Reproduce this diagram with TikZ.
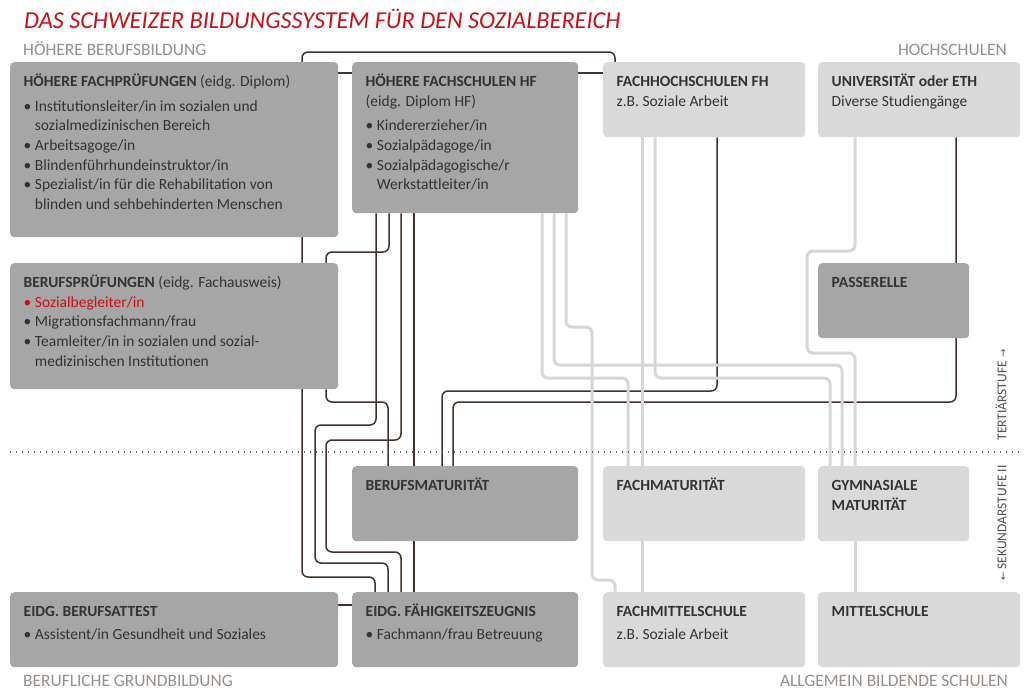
\documentclass[tikz,border=0pt]{standalone}
\usepackage{fontspec}
\setmainfont{Carlito}
\newfontfamily\arrowfont{DejaVu Sans}

\definecolor{darkfill}{RGB}{166,166,166}
\definecolor{lightfill}{RGB}{217,217,217}
\definecolor{wirebrown}{RGB}{66,52,42}
\definecolor{wirelight}{RGB}{214,214,214}
\definecolor{titlered}{RGB}{200,16,24}
\definecolor{labelgrey}{RGB}{150,143,138}
\definecolor{boxink}{RGB}{51,51,51}

\newcommand{\bul}{\textbullet\ }
\newcommand{\bulindent}{\phantom{\textbullet\ }}
\newcommand{\boxlines}[1]{\begin{tabular}[t]{@{}l@{}}#1\end{tabular}}

\pgfdeclarelayer{paper}
\pgfdeclarelayer{wires}
\pgfsetlayers{paper,wires,main}

\tikzset{
  darkbox/.style={fill=darkfill, rounded corners=4pt, anchor=north west, inner sep=0pt},
  lightbox/.style={fill=lightfill, rounded corners=4pt, anchor=north west, inner sep=0pt},
  boxlabel/.style={anchor=base west, inner sep=0pt, text=boxink, font=\fontsize{15.5}{19.6}\selectfont},
  sectionlabel/.style={inner sep=0pt, text=labelgrey, font=\fontsize{17.4}{20}\selectfont},
  sidelabel/.style={inner sep=0pt, rotate=90, text=boxink!85, font=\fontsize{13.5}{16}\selectfont},
  darkline/.style={draw=wirebrown, line width=1.5pt, rounded corners=6pt},
  lightline/.style={draw=wirelight, line width=3pt, rounded corners=6pt},
}

\begin{document}
\begin{tikzpicture}[x=1pt, y=-1pt]
  \begin{pgfonlayer}{paper}
    \fill[white] (0,0) rectangle (1024,696);
  \end{pgfonlayer}
  \useasboundingbox (0,0) rectangle (1024,696);

  % Title and areas
  \node[anchor=base west, inner sep=0pt, text=titlered, font=\fontsize{24.3}{27}\selectfont\itshape] (title) at (24,28.3)
    {DAS SCHWEIZER BILDUNGSSYSTEM FÜR DEN SOZIALBEREICH};
  \node[sectionlabel, anchor=base west] (hbb) at (23,55) {HÖHERE BERUFSBILDUNG};
  \node[sectionlabel, anchor=base east] (hs) at (1007,55) {HOCHSCHULEN};
  \node[sectionlabel, anchor=base west] (bgb) at (23,686) {BERUFLICHE GRUNDBILDUNG};
  \node[sectionlabel, anchor=base east] (abs) at (1008,686.5) {ALLGEMEIN BILDENDE SCHULEN};

  % Tertiary level
  \node[darkbox, minimum width=328pt, minimum height=175pt] (hfp) at (10,62) {};
  \node[darkbox, minimum width=226pt, minimum height=151pt] (hf) at (352,62) {};
  \node[lightbox, minimum width=202pt, minimum height=75pt] (fh) at (603,62) {};
  \node[lightbox, minimum width=202pt, minimum height=75pt] (uni) at (818,62) {};
  \node[darkbox, minimum width=328pt, minimum height=126pt] (bp) at (10,263) {};
  \node[darkbox, minimum width=151pt, minimum height=75pt] (pas) at (818,263) {};

  % Upper secondary level
  \node[darkbox, minimum width=226pt, minimum height=75pt] (bm) at (352,466) {};
  \node[lightbox, minimum width=202pt, minimum height=75pt] (fm) at (603,466) {};
  \node[lightbox, minimum width=151pt, minimum height=75pt] (gm) at (818,466) {};
  \node[darkbox, minimum width=328pt, minimum height=75pt] (eba) at (10,592) {};
  \node[darkbox, minimum width=226pt, minimum height=75pt] (efz) at (352,592) {};
  \node[lightbox, minimum width=202pt, minimum height=75pt] (fms) at (603,592) {};
  \node[lightbox, minimum width=202pt, minimum height=75pt] (ms) at (818,592) {};

  % Box texts
  \node[boxlabel] (hfp-text) at ([shift={(13.5,24.7)}]hfp.north west) {\boxlines{%
    \textbf{HÖHERE FACHPRÜFUNGEN} (eidg. Diplom)\\[5pt]
    \bul Institutionsleiter/in im sozialen und\\
    \bulindent sozialmedizinischen Bereich\\
    \bul Arbeitsagoge/in\\
    \bul Blindenführhundeinstruktor/in\\
    \bul Spezialist/in für die Rehabilitation von\\
    \bulindent blinden und sehbehinderten Menschen}};
  \node[boxlabel] (hf-text) at ([shift={(13.5,24.7)}]hf.north west) {\boxlines{%
    \textbf{HÖHERE FACHSCHULEN HF}\\
    (eidg. Diplom HF)\\[5pt]
    \bul Kindererzieher/in\\
    \bul Sozialpädagoge/in\\
    \bul Sozialpädagogische/r\\
    \bulindent Werkstattleiter/in}};
  \node[boxlabel] (fh-text) at ([shift={(13.5,24.7)}]fh.north west) {\boxlines{%
    \textbf{FACHHOCHSCHULEN FH}\\
    z.B. Soziale Arbeit}};
  \node[boxlabel] (uni-text) at ([shift={(13.5,24.7)}]uni.north west) {\boxlines{%
    \textbf{UNIVERSITÄT oder ETH}\\
    Diverse Studiengänge}};
  \node[boxlabel] (bp-text) at ([shift={(13.5,24.7)}]bp.north west) {\boxlines{%
    \textbf{BERUFSPRÜFUNGEN} (eidg. Fachausweis)\\
    \textcolor{titlered}{\bul Sozialbegleiter/in}\\
    \bul Migrationsfachmann/frau\\
    \bul Teamleiter/in in sozialen und sozial-\\
    \bulindent medizinischen Institutionen}};
  \node[boxlabel] (pas-text) at ([shift={(13.5,24.7)}]pas.north west) {\textbf{PASSERELLE}};
  \node[boxlabel] (bm-text) at ([shift={(13.5,24.7)}]bm.north west) {\textbf{BERUFSMATURITÄT}};
  \node[boxlabel] (fm-text) at ([shift={(13.5,24.7)}]fm.north west) {\textbf{FACHMATURITÄT}};
  \node[boxlabel] (gm-text) at ([shift={(13.5,24.7)}]gm.north west) {\boxlines{%
    \textbf{GYMNASIALE}\\
    \textbf{MATURITÄT}}};
  \node[boxlabel] (eba-text) at ([shift={(13.5,24.7)}]eba.north west) {\boxlines{%
    \textbf{EIDG. BERUFSATTEST}\\[3.5pt]
    \bul Assistent/in Gesundheit und Soziales}};
  \node[boxlabel] (efz-text) at ([shift={(13.5,24.7)}]efz.north west) {\boxlines{%
    \textbf{EIDG. FÄHIGKEITSZEUGNIS}\\[3.5pt]
    \bul Fachmann/frau Betreuung}};
  \node[boxlabel] (fms-text) at ([shift={(13.5,24.7)}]fms.north west) {\boxlines{%
    \textbf{FACHMITTELSCHULE}\\[3.5pt]
    z.B. Soziale Arbeit}};
  \node[boxlabel] (ms-text) at ([shift={(13.5,24.7)}]ms.north west) {\textbf{MITTELSCHULE}};

  % Level separator
  \draw[boxink!80, line width=1.6pt, dash pattern=on 1.2pt off 4.8pt] (10,452) -- (1020,452);
  \node[sidelabel] (tert) at (1001,395) {TERTIÄRSTUFE {\arrowfont\fontsize{10}{10}\selectfont →}};
  \node[sidelabel] (sek) at (1002,523) {{\arrowfont\fontsize{10}{10}\selectfont ←} SEKUNDARSTUFE II};

  \begin{pgfonlayer}{wires}
    % Vocational paths
    \draw[darkline] ([xshift=12pt]fh.north west) |- (302,52) -- (302,577) -| ([xshift=23pt]efz.north west);
    \draw[darkline] ([yshift=-11pt]hfp.north east) -- ([yshift=-11pt]fh.north west);
    \draw[darkline] ([xshift=37pt]hf.south west) -- (389,252) -- (326,252) -- ([xshift=316pt]bp.north west);
    \draw[darkline] ([xshift=316pt]bp.south west) -- (326,402) -| ([xshift=36pt]bm.north west);
    \draw[darkline] ([xshift=24pt]hf.south west) -- (376,425) -- (315,425) -- (315,563) -| ([xshift=36pt]efz.north west);
    \draw[darkline] ([xshift=49pt]hf.south west) -- (401,440) -- (326,440) -- (326,552) -| ([xshift=49pt]efz.north west);
    \draw[darkline] ([xshift=62pt]hf.south west) -- ([xshift=62pt]efz.north west);
    \draw[darkline] ([yshift=-13pt]eba.north east) -- ([yshift=-13pt]efz.north west);
    \draw[darkline] ([xshift=90pt]bm.north west) -- (442,391) -| ([xshift=114pt]fh.south west);
    \draw[darkline] ([xshift=101pt]bm.north west) -- (453,402) -| ([xshift=138pt]uni.south west);

    % General education paths
    \draw[lightline] ([xshift=214pt]hf.south west) -- (566,327) -- (592,327) -- (592,580) -| ([xshift=12pt]fms.north west);
    \draw[lightline] ([xshift=202pt]hf.south west) -- (554,365) -| ([xshift=24pt]gm.north west);
    \draw[lightline] ([xshift=190pt]hf.south west) -- (542,378) -| ([xshift=25pt]fm.north west);
    \draw[lightline] ([xshift=39pt]fh.south west) -- ([xshift=39pt]fms.north west);
    \draw[lightline] ([xshift=52pt]fh.south west) -- (655,378) -| ([xshift=12pt]gm.north west);
    \draw[lightline] ([xshift=37pt]uni.south west) -- (855,251) -- (807,251) -- (807,353) -- (855,353) -- ([xshift=37pt]gm.north west);
    \draw[lightline] ([xshift=37pt]gm.south west) -- ([xshift=37pt]ms.north west);
  \end{pgfonlayer}
\end{tikzpicture}
\end{document}
